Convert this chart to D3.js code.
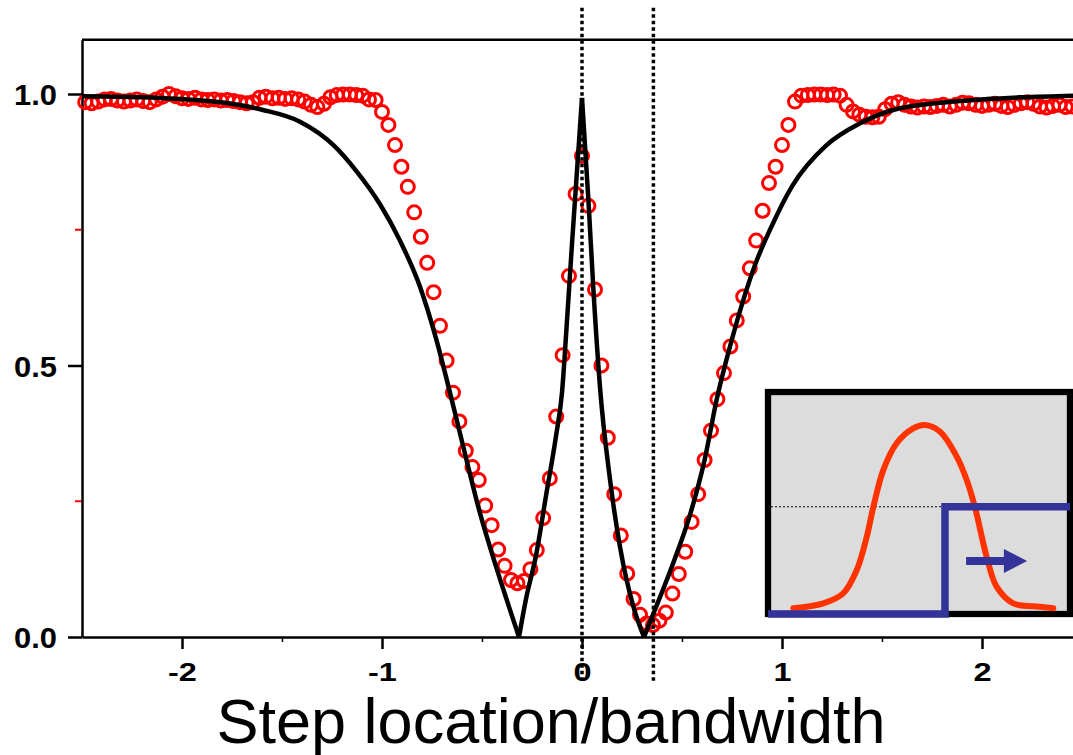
<!DOCTYPE html>
<html>
<head>
<meta charset="utf-8">
<script src="https://cdn.jsdelivr.net/npm/d3@7"></script>
<style>
  body { margin: 0; background: #fff; }
  svg { display: block; }
</style>
</head>
<body>
<div id="chart"></div>
<script>
const width = 1073;
const height = 755;
const fontFamily = "Arial, 'Liberation Sans', sans-serif";

// step positions of the measured points (step location / bandwidth)
const stepX = [
  -2.484, -2.452, -2.419, -2.387, -2.355, -2.323, -2.290, -2.258, -2.226, -2.194,
  -2.161, -2.129, -2.097, -2.065, -2.032, -2.000, -1.968, -1.935, -1.903, -1.871,
  -1.839, -1.806, -1.774, -1.742, -1.710, -1.677, -1.645, -1.613, -1.581, -1.548,
  -1.516, -1.484, -1.452, -1.419, -1.387, -1.355, -1.323, -1.290, -1.258, -1.226,
  -1.194, -1.161, -1.129, -1.097, -1.065, -1.032, -1.000, -0.968, -0.935, -0.903,
  -0.871, -0.839, -0.806, -0.774, -0.742, -0.710, -0.677, -0.645, -0.613, -0.581,
  -0.548, -0.516, -0.484, -0.452, -0.419, -0.387, -0.355, -0.323, -0.290, -0.258,
  -0.226, -0.194, -0.161, -0.129, -0.097, -0.065, -0.032, 0.000, 0.032, 0.065,
  0.097, 0.129, 0.161, 0.194, 0.226, 0.258, 0.290, 0.323, 0.355, 0.387,
  0.419, 0.452, 0.484, 0.516, 0.548, 0.581, 0.613, 0.645, 0.677, 0.710,
  0.742, 0.774, 0.806, 0.839, 0.871, 0.903, 0.935, 0.968, 1.000, 1.032,
  1.065, 1.097, 1.129, 1.161, 1.194, 1.226, 1.258, 1.290, 1.323, 1.355,
  1.387, 1.419, 1.452, 1.484, 1.516, 1.548, 1.581, 1.613, 1.645, 1.677,
  1.710, 1.742, 1.774, 1.806, 1.839, 1.871, 1.903, 1.935, 1.968, 2.000,
  2.032, 2.065, 2.097, 2.129, 2.161, 2.194, 2.226, 2.258, 2.290, 2.323,
  2.355, 2.387, 2.419, 2.452
];

// measured response (red circles)
const measured = [
  0.985, 0.983, 0.986, 0.990, 0.991, 0.988, 0.986, 0.988, 0.990, 0.987,
  0.985, 0.990, 0.995, 1.000, 0.996, 0.992, 0.991, 0.993, 0.990, 0.989,
  0.990, 0.988, 0.989, 0.987, 0.985, 0.983, 0.985, 0.993, 0.995, 0.992,
  0.993, 0.991, 0.992, 0.990, 0.986, 0.980, 0.976, 0.982, 0.994, 0.998,
  0.999, 0.999, 0.998, 0.997, 0.990, 0.989, 0.967, 0.943, 0.906, 0.866,
  0.829, 0.782, 0.737, 0.689, 0.635, 0.573, 0.509, 0.450, 0.397, 0.343,
  0.313, 0.289, 0.242, 0.206, 0.161, 0.131, 0.105, 0.099, 0.103, 0.125,
  0.160, 0.219, 0.292, 0.406, 0.519, 0.665, 0.816, 0.886, 0.794, 0.640,
  0.500, 0.367, 0.263, 0.187, 0.117, 0.070, 0.041, 0.025, 0.022, 0.030,
  0.045, 0.080, 0.116, 0.157, 0.212, 0.263, 0.326, 0.380, 0.438, 0.486,
  0.535, 0.583, 0.627, 0.679, 0.730, 0.785, 0.836, 0.866, 0.906, 0.943,
  0.986, 0.997, 0.998, 0.999, 0.999, 0.998, 0.999, 0.997, 0.980, 0.968,
  0.962, 0.958, 0.957, 0.958, 0.972, 0.982, 0.985, 0.980, 0.977, 0.975,
  0.977, 0.976, 0.978, 0.980, 0.977, 0.980, 0.984, 0.983, 0.980, 0.978,
  0.980, 0.982, 0.978, 0.976, 0.980, 0.983, 0.985, 0.982, 0.977, 0.975,
  0.978, 0.980, 0.976, 0.977
];

// theory curve, one piece between each pair of cusps
const theoryA = [[-2.5, 0.996], [-2.2, 0.994], [-1.9, 0.988], [-1.75, 0.982], [-1.6, 0.971],
  [-1.41, 0.949], [-1.24, 0.905], [-1.13, 0.859], [-1.01, 0.797], [-0.91, 0.73],
  [-0.81, 0.645], [-0.73, 0.55], [-0.66, 0.45], [-0.6, 0.36], [-0.51, 0.228],
  [-0.43, 0.13], [-0.36, 0.05], [-0.315, 0]];
const theoryB = [[-0.315, 0], [-0.28, 0.07], [-0.23, 0.15], [-0.18, 0.26], [-0.13, 0.37],
  [-0.1, 0.45], [-0.077, 0.571], [-0.052, 0.713], [-0.035, 0.805], [0, 0.993]];
const theoryC = [[0, 0.993], [0.032, 0.805], [0.057, 0.64], [0.09, 0.46], [0.14, 0.29],
  [0.19, 0.166], [0.257, 0.056], [0.31, 0]];
const theoryD = [[0.31, 0], [0.37, 0.055], [0.46, 0.14], [0.54, 0.225], [0.613, 0.326],
  [0.675, 0.44], [0.74, 0.535], [0.806, 0.62], [0.87, 0.69], [0.94, 0.75],
  [1.05, 0.83], [1.22, 0.905], [1.39, 0.946], [1.56, 0.971], [1.89, 0.987],
  [2.2, 0.994], [2.455, 0.997]];

const xTicks = [-2, -1, 0, 1, 2];
const xMinorTicks = [-1.5, -0.5, 0.5, 1.5];
const yTicks = [0, 0.5, 1.0];
const yRedTicks = [0.25, 0.75];
const markerLines = [0, 0.357];

// inset sketch (0..100 in both directions)
const insetPulse = [[8.4, 2.6], [18.3, 4.8], [24.9, 9.3], [29.4, 19.8], [32.7, 34.8],
  [34.9, 48.3], [38.2, 64.9], [42.6, 76.9], [48.1, 83.6], [52.0, 85.1], [57.0, 82.1],
  [62.5, 70.9], [65.8, 60.4], [68.5, 48.3], [72.4, 25.8], [75.7, 12.3], [81.2, 4.8],
  [90.1, 3.3], [94.5, 2.6]];
const insetStep = [[0, 0], [58.6, 0], [58.6, 48.3], [100, 48.3]];
const insetLevel = [[1, 48.3], [58.6, 48.3]];
const insetArrowShaft = [[65.6, 23.9], [79, 23.9]];
const insetArrowHead = [[78.1, 29.3], [85.8, 23.9], [78.1, 18.5]];

const svg = d3.select("#chart").append("svg")
  .attr("width", width)
  .attr("height", height)
  .style("font-family", fontFamily);

const x = d3.scaleLinear().domain([-2.5, 2.455]).range([82, 1073]);
const y = d3.scaleLinear().domain([0, 1.1]).range([637, 39.7]);

// frame top line
svg.append("line")
  .attr("x1", x(-2.5)).attr("x2", x(2.455))
  .attr("y1", y(1.1)).attr("y2", y(1.1))
  .attr("stroke", "#000").attr("stroke-width", 2.5);

// y axis
const yAxis = svg.append("g")
  .attr("transform", `translate(${x(-2.5)},0)`)
  .call(d3.axisLeft(y).tickValues(yTicks).tickSize(14).tickSizeOuter(0)
    .tickFormat(d3.format(".1f")))
  .attr("font-family", fontFamily);
yAxis.select(".domain").attr("stroke-width", 2.5);
yAxis.selectAll(".tick line").attr("stroke-width", 2.5);
yAxis.selectAll(".tick text")
  .attr("x", 0)
  .attr("dy", "0.36em")
  .attr("transform", "translate(-25,0) scale(1.03,1)")
  .attr("font-size", 30).attr("font-weight", "bold").attr("fill", "#000");

svg.selectAll(".red-tick")
  .data(yRedTicks)
  .enter().append("line")
  .attr("class", "red-tick")
  .attr("x1", x(-2.5) - 7).attr("x2", x(-2.5) - 1)
  .attr("y1", d => y(d)).attr("y2", d => y(d))
  .attr("stroke", "#ff0000").attr("stroke-width", 2);

// x axis (labels drawn wide, as in the original)
const xAxis = svg.append("g")
  .attr("transform", `translate(0,${y(0)})`)
  .call(d3.axisBottom(x).tickValues(xTicks).tickSize(12).tickSizeOuter(0)
    .tickPadding(14).tickFormat(d => String(d)))
  .attr("font-family", fontFamily);
xAxis.select(".domain").attr("stroke-width", 2.5);
xAxis.selectAll(".tick line").attr("stroke-width", 2.5);
xAxis.selectAll(".tick text")
  .attr("transform", "scale(1.3,1)")
  .attr("font-size", 25).attr("font-weight", "bold").attr("fill", "#000");

svg.append("g")
  .attr("transform", `translate(0,${y(0)})`)
  .call(d3.axisBottom(x).tickValues(xMinorTicks).tickSize(5).tickFormat(""))
  .call(g => g.select(".domain").remove())
  .selectAll(".tick line").attr("stroke-width", 1.5);

// measured points
svg.append("g")
  .selectAll("circle")
  .data(measured)
  .enter().append("circle")
  .attr("cx", (d, i) => x(stepX[i]))
  .attr("cy", d => y(d))
  .attr("r", 6.5)
  .attr("fill", "none")
  .attr("stroke", "#ff0000")
  .attr("stroke-width", 3);

// theory curve
const line = d3.line()
  .x(d => x(d[0]))
  .y(d => y(d[1]))
  .curve(d3.curveMonotoneX);

svg.append("g")
  .selectAll("path")
  .data([theoryA, theoryB, theoryC, theoryD])
  .enter().append("path")
  .attr("d", line)
  .attr("fill", "none")
  .attr("stroke", "#000")
  .attr("stroke-width", 4.5)
  .attr("stroke-linejoin", "round");

// dotted marker lines
svg.selectAll(".marker")
  .data(markerLines)
  .enter().append("line")
  .attr("class", "marker")
  .attr("x1", d => x(d)).attr("x2", d => x(d))
  .attr("y1", y(1.1) - 32).attr("y2", y(0) + 46)
  .attr("stroke", "#000")
  .attr("stroke-width", 3.5)
  .attr("stroke-dasharray", "3.5,3");

// inset
const ix = d3.scaleLinear().domain([0, 100]).range([768, 1070]);
const iy = d3.scaleLinear().domain([0, 100]).range([614, 392]);

svg.append("rect")
  .attr("x", ix(0)).attr("y", iy(100))
  .attr("width", ix(100) - ix(0)).attr("height", iy(0) - iy(100))
  .attr("fill", "#dcdcdc")
  .attr("stroke", "#000")
  .attr("stroke-width", 6.3);

const iline = d3.line().x(d => ix(d[0])).y(d => iy(d[1]));

svg.append("path")
  .attr("d", iline(insetLevel))
  .attr("stroke", "#000").attr("stroke-width", 1.2)
  .attr("stroke-dasharray", "2,2").attr("fill", "none");

svg.append("path")
  .attr("d", iline.curve(d3.curveCatmullRom)(insetPulse))
  .attr("stroke", "#ff3300").attr("stroke-width", 6)
  .attr("stroke-linecap", "round").attr("fill", "none");

iline.curve(d3.curveLinear);

svg.append("path")
  .attr("d", iline(insetStep))
  .attr("stroke", "#333399").attr("stroke-width", 7.5).attr("fill", "none");

svg.append("path")
  .attr("d", iline(insetArrowShaft))
  .attr("stroke", "#333399").attr("stroke-width", 8).attr("fill", "none");

svg.append("path")
  .attr("d", iline(insetArrowHead) + "Z")
  .attr("fill", "#333399");

// axis title
svg.append("text")
  .attr("x", 551)
  .attr("y", 743)
  .attr("text-anchor", "middle")
  .attr("font-size", 63)
  .text("Step location/bandwidth");
</script>
</body>
</html>
